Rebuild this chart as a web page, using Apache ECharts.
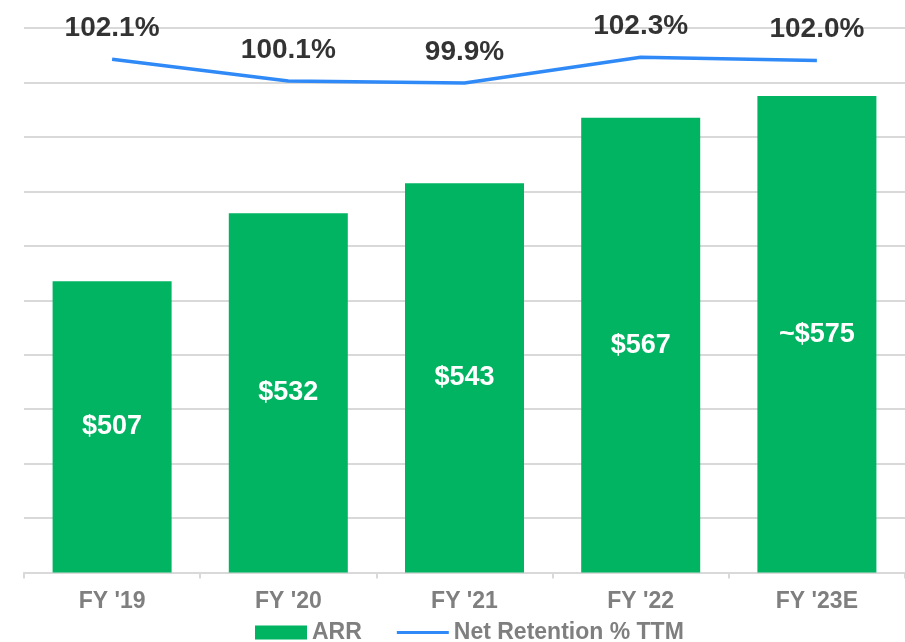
<!DOCTYPE html>
<html>
<head>
<meta charset="utf-8">
<script src="https://cdn.jsdelivr.net/npm/echarts@6/dist/echarts.min.js"></script>
<style>
html,body{margin:0;padding:0;background:#fff;}
#chart{width:905px;height:642px;}
</style>
</head>
<body>
<div id="chart"></div>
<script>
const categories = ["FY '19", "FY '20", "FY '21", "FY '22", "FY '23E"];
const arrValues = [507, 532, 543, 567, 575];
const arrLabels = ["$507", "$532", "$543", "$567", "~$575"];
const retentionValues = [102.1, 100.1, 99.9, 102.3, 102.0];
const retentionLabels = ["102.1%", "100.1%", "99.9%", "102.3%", "102.0%"];

const FONT = "'Liberation Sans', Arial, sans-serif";
const chart = echarts.init(document.getElementById('chart'));
chart.setOption({
  animation: false,
  backgroundColor: '#ffffff',
  grid: { left: 24, top: 28, width: 889, height: 544.5 },
  legend: {
    left: 250, top: 616,
    itemWidth: 52, itemHeight: 14, itemGap: 35,
    textStyle: { fontFamily: FONT, fontSize: 23, fontWeight: 'bold', color: '#7f7f7f' },
    data: [
      { name: 'ARR', icon: 'rect' },
      { name: 'Net Retention % TTM', icon: 'path://M0,0L52,0L52,0.01L0,0.01ZM0,5.5L52,5.5L52,8.5L0,8.5ZM0,14L52,14L52,14.01L0,14.01Z', itemStyle: { color: '#2f8af8' } }
    ]
  },
  xAxis: {
    type: 'category',
    data: categories,
    boundaryGap: true,
    axisLine: { lineStyle: { color: '#d9d9d9', width: 2 } },
    axisTick: { show: true, length: 6, lineStyle: { color: '#d9d9d9', width: 2 } },
    axisLabel: { margin: 18, fontFamily: FONT, fontSize: 23, fontWeight: 'bold', color: '#7f7f7f' }
  },
  yAxis: [
    {
      type: 'value', min: 400, max: 600, interval: 20,
      axisLabel: { show: false }, axisLine: { show: false }, axisTick: { show: false },
      splitLine: { lineStyle: { color: '#d9d9d9', width: 2 } }
    },
    {
      type: 'value', min: 54.6, max: 105,
      show: false, splitLine: { show: false }
    }
  ],
  series: [
    {
      name: 'ARR',
      type: 'bar',
      data: arrValues,
      barWidth: 119,
      itemStyle: { color: '#00b462' },
      label: {
        show: true, position: 'inside',
        formatter: p => arrLabels[p.dataIndex],
        fontFamily: FONT, fontSize: 27, fontWeight: 'bold', color: '#ffffff'
      }
    },
    {
      name: 'Net Retention % TTM',
      type: 'line',
      yAxisIndex: 1,
      data: retentionValues,
      symbol: 'none',
      lineStyle: { color: '#2f8af8', width: 3.5 },
      itemStyle: { color: '#2f8af8' },
      z: 5
    },
    {
      name: 'retentionLabels',
      type: 'scatter',
      yAxisIndex: 1,
      data: retentionValues,
      symbolSize: 0,
      silent: true,
      z: 6,
      itemStyle: { color: '#000000' },
      label: {
        show: true, position: 'top', distance: 17,
        formatter: p => retentionLabels[p.dataIndex],
        fontFamily: FONT, fontSize: 28, fontWeight: 'bold', color: '#000000',
        textBorderWidth: 0
      }
    }
  ]
});
</script>
</body>
</html>
